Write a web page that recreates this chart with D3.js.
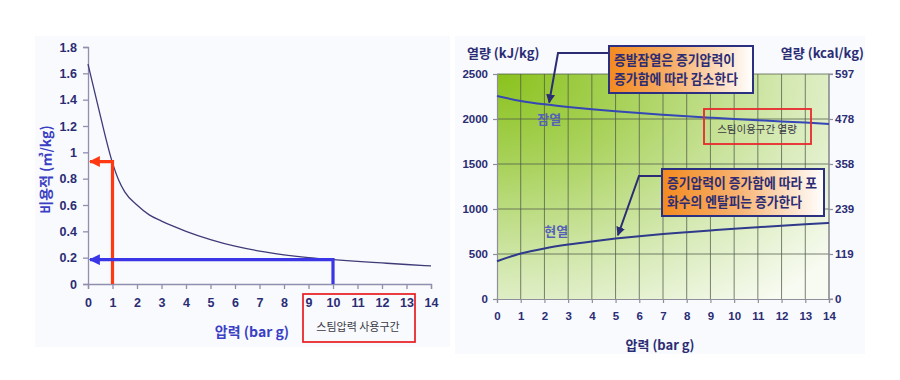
<!DOCTYPE html>
<html>
<head>
<meta charset="utf-8">
<script src="https://cdn.jsdelivr.net/npm/d3@7"></script>
<style>
  html, body { margin: 0; padding: 0; background: #fff; }
  svg { display: block; font-family: "Liberation Sans", Arial, sans-serif; }
  .kr { font-family: "Noto Sans CJK KR", "Liberation Sans", sans-serif; }
</style>
</head>
<body>
<div id="chart"></div>
<script>
// ---- data: 비용적 (left) ----
const volPressure = [0, 0.5, 1, 1.25, 1.5, 2, 2.5, 3, 3.5, 4, 5, 6, 7, 8, 9, 10, 11, 12, 13, 14];
const specVolume  = [1.67, 1.28, 0.92, 0.79, 0.70, 0.60, 0.525, 0.478, 0.437, 0.40, 0.337, 0.287, 0.25, 0.222, 0.2, 0.185, 0.172, 0.16, 0.148, 0.137];
const pressureTicks = [0, 1, 2, 3, 4, 5, 6, 7, 8, 9, 10, 11, 12, 13, 14];
const volTicks = [0, 0.2, 0.4, 0.6, 0.8, 1, 1.2, 1.4, 1.6, 1.8];
const redMark  = { p: 1,  v: 0.93 };
const blueMark = { p: 10, v: 0.185 };

// ---- data: 열량 (right) ----
const heatPressure = [0, 1, 2, 3, 4, 5, 6, 7, 8, 9, 10, 11, 12, 13, 14];
const latentHeat   = [2255, 2201, 2163, 2133, 2108, 2086, 2066, 2048, 2031, 2015, 2000, 1986, 1972, 1960, 1945];
const sensibleHeat = [420, 505, 562, 605, 640, 671, 697, 721, 742, 762, 781, 798, 814, 830, 844];
const kjTicks   = [0, 500, 1000, 1500, 2000, 2500];
const kcalTicks = ['0', '119', '239', '358', '478', '597'];

const W = 900, H = 380;
const navy = '#2b2c74';
const svg = d3.select('#chart').append('svg').attr('width', W).attr('height', H);
const defs = svg.append('defs');

function arrowMarker(id, color, size) {
  defs.append('marker').attr('id', id)
    .attr('viewBox', '0 0 10 10').attr('refX', 9).attr('refY', 5)
    .attr('markerWidth', size).attr('markerHeight', size)
    .attr('markerUnits', 'userSpaceOnUse').attr('orient', 'auto')
    .append('path').attr('d', 'M0,0 L10,5 L0,10 Z').attr('fill', color);
}
arrowMarker('arrRed', '#ff3a12', 11);
arrowMarker('arrBlue', '#3a35e6', 11);
arrowMarker('arrNavy', '#2b2c74', 9);

// panel backgrounds
svg.append('rect').attr('x', 35).attr('y', 36).attr('width', 415).attr('height', 311).attr('fill', '#f8fafd');
svg.append('rect').attr('x', 455).attr('y', 36).attr('width', 410).attr('height', 318).attr('fill', '#f8fafd');

// ================= LEFT =================
(function () {
  const x = d3.scaleLinear().domain([0, 14]).range([88, 431]);
  const y = d3.scaleLinear().domain([0, 1.8]).range([284, 47]);
  const g = svg.append('g');

  const gx = g.append('g').attr('transform', `translate(0,${y(0)})`)
    .call(d3.axisBottom(x).tickValues(pressureTicks).tickSize(5).tickPadding(9).tickFormat(d3.format('d')));
  const gy = g.append('g').attr('transform', `translate(${x(0)},0)`)
    .call(d3.axisLeft(y).tickValues(volTicks).tickSize(5).tickPadding(6).tickFormat(d => d3.format('~g')(d)));
  [gx, gy].forEach(a => {
    a.selectAll('path, line').attr('stroke', '#8f8fae').attr('stroke-width', 1.3);
    a.selectAll('text').attr('fill', navy).attr('font-size', 12.5).attr('font-weight', 'bold');
  });

  g.append('path').datum(volPressure.map((p, i) => [p, specVolume[i]]))
    .attr('fill', 'none').attr('stroke', '#3f3a78').attr('stroke-width', 1.3)
    .attr('d', d3.line().x(d => x(d[0])).y(d => y(d[1])).curve(d3.curveMonotoneX));

  // red & blue read-off arrows
  [[redMark, '#ff3a12', 'arrRed'], [blueMark, '#3a35e6', 'arrBlue']].forEach(([m, c, id]) => {
    g.append('path')
      .attr('d', `M${x(m.p)},${y(0)} L${x(m.p)},${y(m.v)} L${x(0) + 2},${y(m.v)}`)
      .attr('fill', 'none').attr('stroke', c).attr('stroke-width', 3.2)
      .attr('marker-end', `url(#${id})`);
  });

  g.append('text').attr('class', 'kr')
    .attr('transform', `translate(51,${(y(0) + y(1.8)) / 2 + 4}) rotate(-90)`)
    .attr('text-anchor', 'middle').attr('fill', '#3b3fc4')
    .attr('font-size', 14).attr('font-weight', 'bold').text('비용적 (㎥/kg)');

  g.append('text').attr('class', 'kr')
    .attr('x', 252).attr('y', 337).attr('text-anchor', 'middle')
    .attr('fill', '#3b3fc4').attr('font-size', 14).attr('font-weight', 'bold').text('압력 (bar g)');

  g.append('rect').attr('x', 303).attr('y', 294).attr('width', 112).attr('height', 48)
    .attr('fill', 'none').attr('stroke', '#e8282e').attr('stroke-width', 1.8);
  g.append('text').attr('class', 'kr')
    .attr('x', 358).attr('y', 331).attr('text-anchor', 'middle')
    .attr('fill', '#3a3a46').attr('font-size', 11).text('스팀압력 사용구간');
})();

// ================= RIGHT =================
(function () {
  const x = d3.scaleLinear().domain([0, 14]).range([497, 829]);
  const y = d3.scaleLinear().domain([0, 2500]).range([299, 74]);
  const yk = d3.scalePoint().domain(kcalTicks).range([299, 74]);
  const g = svg.append('g');

  const grad = defs.append('radialGradient').attr('id', 'greenBg')
    .attr('cx', 0).attr('cy', 0).attr('r', 1.3).attr('fx', 0).attr('fy', 0);
  grad.append('stop').attr('offset', 0).attr('stop-color', '#8ac21c');
  grad.append('stop').attr('offset', 0.33).attr('stop-color', '#abd35f');
  grad.append('stop').attr('offset', 0.68).attr('stop-color', '#d5e9b3');
  grad.append('stop').attr('offset', 1).attr('stop-color', '#f8fbf2');
  g.append('rect').attr('x', x(0)).attr('y', y(2500))
    .attr('width', x(14) - x(0)).attr('height', y(0) - y(2500)).attr('fill', 'url(#greenBg)');

  // grid
  g.append('g').selectAll('line').data(pressureTicks.slice(1)).join('line')
    .attr('x1', d => x(d)).attr('x2', d => x(d)).attr('y1', y(2500)).attr('y2', y(0))
    .attr('stroke', '#4d5a48').attr('stroke-opacity', 0.75).attr('stroke-width', 1);
  g.append('g').selectAll('line').data(kjTicks.slice(1)).join('line')
    .attr('x1', x(0)).attr('x2', x(14)).attr('y1', d => y(d)).attr('y2', d => y(d))
    .attr('stroke', '#4d5a48').attr('stroke-opacity', 0.75).attr('stroke-width', 1);

  const gx = g.append('g').attr('transform', `translate(0,${y(0)})`)
    .call(d3.axisBottom(x).tickValues(pressureTicks).tickSize(4).tickPadding(9).tickFormat(d3.format('d')));
  const gy = g.append('g').attr('transform', `translate(${x(0)},0)`)
    .call(d3.axisLeft(y).tickValues(kjTicks).tickSize(4).tickPadding(5).tickFormat(d3.format('d')));
  const gk = g.append('g').attr('transform', `translate(${x(14)},0)`)
    .call(d3.axisRight(yk).tickSize(4).tickPadding(2));
  [gx, gy, gk].forEach(a => {
    a.selectAll('path, line').attr('stroke', '#8f8f9c').attr('stroke-width', 1.2);
    a.selectAll('text').attr('fill', navy).attr('font-size', 11.5).attr('font-weight', 'bold');
  });
  gk.select('.domain').attr('d', `M4,${y(0)}H0V${y(2500)}H4`);

  const line = d3.line().x((d, i) => x(heatPressure[i])).y(d => y(d)).curve(d3.curveMonotoneX);
  g.append('path').datum(latentHeat).attr('fill', 'none').attr('stroke', '#3447b5').attr('stroke-width', 2).attr('d', line);
  g.append('path').datum(sensibleHeat).attr('fill', 'none').attr('stroke', '#2f3a8a').attr('stroke-width', 2).attr('d', line);

  g.append('text').attr('class', 'kr').attr('x', x(2.2)).attr('y', y(1950)).attr('text-anchor', 'middle')
    .attr('fill', '#5561b8').attr('font-size', 13).attr('font-weight', 'bold').text('잠열');
  g.append('text').attr('class', 'kr').attr('x', x(2.5)).attr('y', y(705)).attr('text-anchor', 'middle')
    .attr('fill', '#5561b8').attr('font-size', 13).attr('font-weight', 'bold').text('현열');

  // titles
  g.append('text').attr('class', 'kr').attr('x', 467).attr('y', 58).attr('fill', navy)
    .attr('font-size', 13).attr('font-weight', 'bold').text('열량 (kJ/kg)');
  g.append('text').attr('class', 'kr').attr('x', 864).attr('y', 58).attr('text-anchor', 'end').attr('fill', navy)
    .attr('font-size', 13).attr('font-weight', 'bold').text('열량 (kcal/kg)');
  g.append('text').attr('class', 'kr').attr('x', 660).attr('y', 350).attr('text-anchor', 'middle').attr('fill', navy)
    .attr('font-size', 13).attr('font-weight', 'bold').text('압력 (bar g)');

  // red box
  g.append('rect').attr('x', 704).attr('y', 109).attr('width', 107).attr('height', 35)
    .attr('fill', 'none').attr('stroke', '#e8282e').attr('stroke-width', 1.8);
  g.append('text').attr('class', 'kr').attr('x', 757).attr('y', 133).attr('text-anchor', 'middle')
    .attr('fill', '#3a3a46').attr('font-size', 10.5).text('스팀이용구간 열량');

  // callouts
  const og = defs.append('linearGradient').attr('id', 'orangeBox').attr('x1', 0).attr('x2', 1).attr('y1', 0).attr('y2', 0);
  og.append('stop').attr('offset', 0).attr('stop-color', '#f38a1f');
  og.append('stop').attr('offset', 0.45).attr('stop-color', '#f7b06c');
  og.append('stop').attr('offset', 1).attr('stop-color', '#ffffff');

  function callout(bx, by, bw, bh, lines, widths, leader) {
    g.append('path').attr('d', leader).attr('fill', 'none').attr('stroke', navy)
      .attr('stroke-width', 2).attr('marker-end', 'url(#arrNavy)');
    g.append('rect').attr('x', bx).attr('y', by).attr('width', bw).attr('height', bh)
      .attr('fill', 'url(#orangeBox)').attr('stroke', '#2b3080').attr('stroke-width', 2);
    lines.forEach((t, i) => g.append('text').attr('class', 'kr')
      .attr('x', bx + 5).attr('y', by + 19 + i * 19).attr('fill', navy)
      .attr('font-size', 13.5).attr('font-weight', 'bold')
      .attr('textLength', widths[i]).attr('lengthAdjust', 'spacingAndGlyphs').text(t));
  }
  callout(609, 46, 144, 47, ['증발잠열은 증기압력이', '증가함에 따라 감소한다'], [121, 124],
    `M609,53 L558,53 L${x(2.2)},${y(2150) - 3}`);
  callout(662, 169, 162, 47, ['증기압력이 증가함에 따라 포', '화수의 엔탈피는 증가한다'], [150, 135],
    `M662,176 L639,176 L${x(5.1)},${y(675) - 3}`);
})();
</script>
</body>
</html>
